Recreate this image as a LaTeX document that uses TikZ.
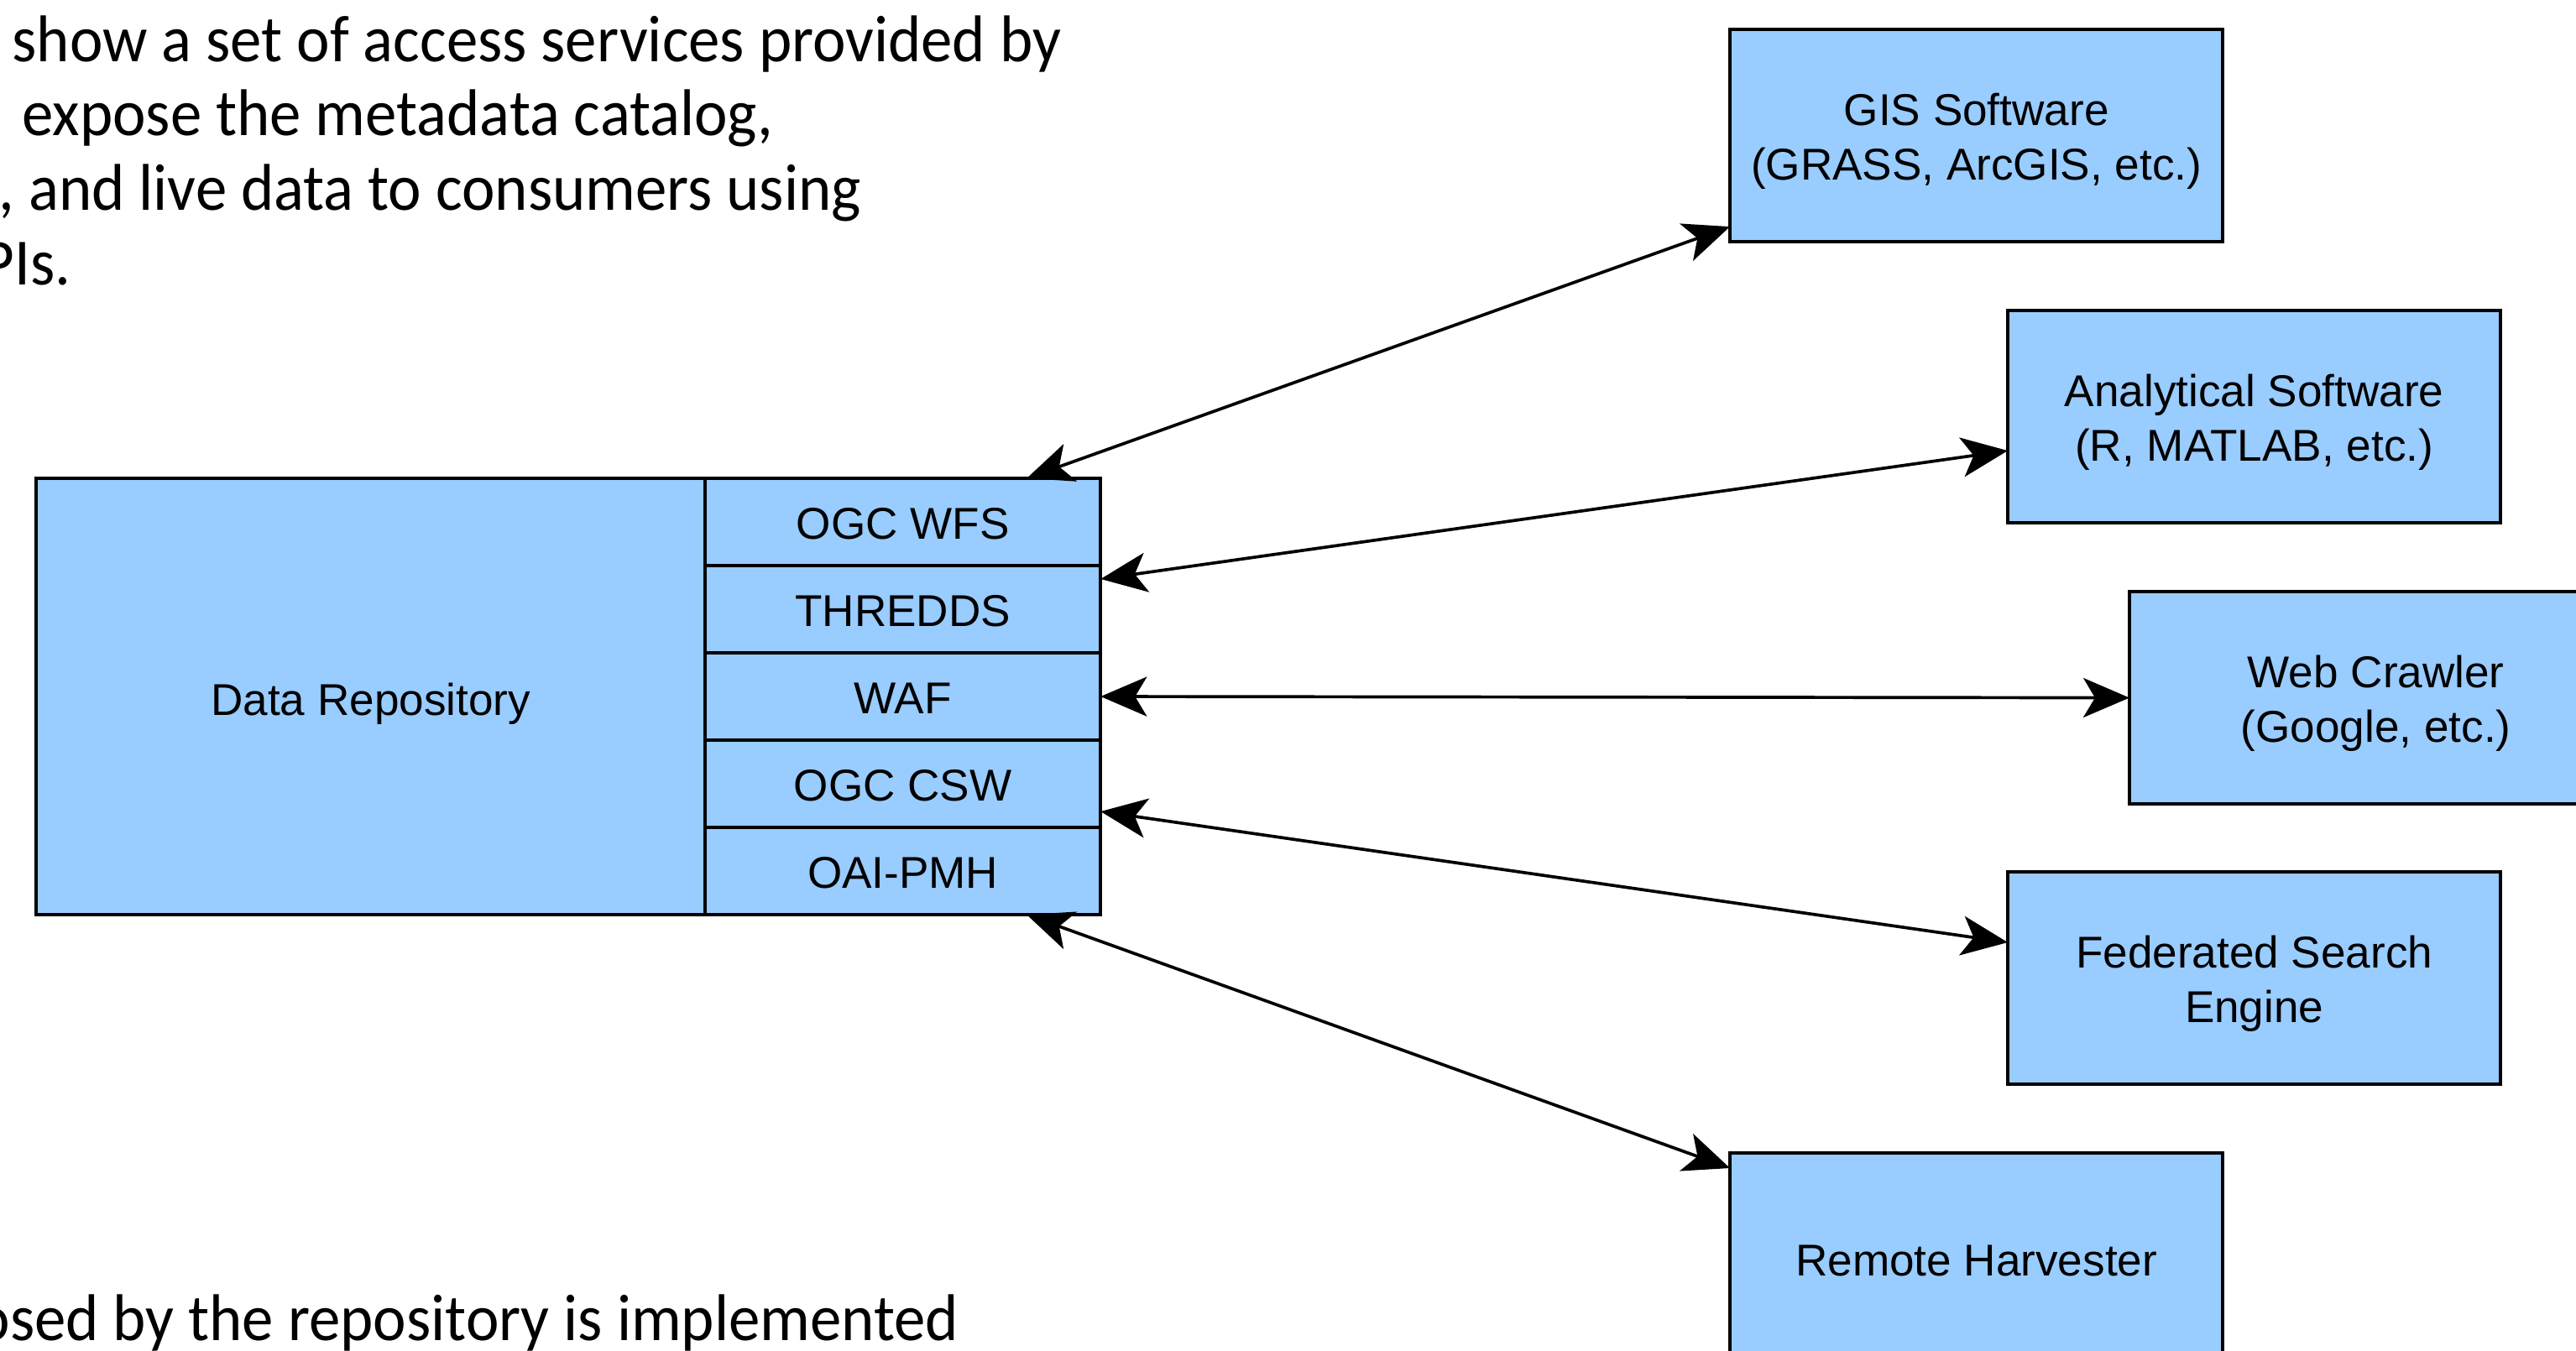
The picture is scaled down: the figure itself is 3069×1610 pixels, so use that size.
\documentclass[tikz,border=0pt]{standalone}
\usepackage{fontspec}
\setmainfont{Liberation Sans}
\newfontfamily\bodyfont[FakeStretch=0.95]{Carlito}
\usetikzlibrary{arrows.meta}
\definecolor{boxblue}{HTML}{99CCFF}
\begin{document}
\begin{tikzpicture}[x=0.01cm,y=-0.01cm,
  box/.style={draw=black, line width=1.15pt, fill=boxblue, inner sep=0pt, outer sep=0pt, anchor=north west},
  svc/.style={box, minimum width=4.71cm, minimum height=1.04cm},
  client/.style={box, minimum width=5.87cm, minimum height=2.53cm},
  lbl/.style={inner sep=0pt, align=center, font=\fontsize{15.1pt}{18.5pt}\selectfont},
  conn/.style={line width=1.05pt, {Stealth[length=0.55cm,width=0.47cm,inset=0.14cm]}-{Stealth[length=0.55cm,width=0.47cm,inset=0.14cm]}},
  prose/.style={anchor=base west, inner sep=0pt, font=\bodyfont\fontsize{22.4pt}{25.6pt}\selectfont}]
\useasboundingbox (0,0) rectangle (3069,1610);
\clip (0,0) rectangle (3069,1610);
\fill[white] (0,0) rectangle (3069,1610);

% prose
\node[prose] (t1) at (14,74) {show a set of access services provided by};
\node[prose] (t2) at (26,162) {expose the metadata catalog,};
\node[prose] (t3) at (-2,251) {, and live data to consumers using};
\node[prose] (t4) at (-22,340) {PIs.};
\node[prose] (t5) at (-28,1597) {osed by the repository is implemented};

% repository
\node[box, minimum width=7.97cm, minimum height=5.20cm] (repo) at (43,570) {};
\node[svc] (wfs) at (840,570) {};
\node[svc] (thredds) at (840,674) {};
\node[svc] (waf) at (840,778) {};
\node[svc] (csw) at (840,882) {};
\node[svc] (oai) at (840,986) {};
\node[lbl] (repol) at ([yshift=-0.085cm]repo.center) {Data Repository};
\node[lbl] (wfsl) at ([yshift=-0.02cm]wfs.center) {OGC WFS};
\node[lbl] (threddsl) at ([yshift=-0.02cm]thredds.center) {THREDDS};
\node[lbl] (wafl) at ([yshift=-0.02cm]waf.center) {WAF};
\node[lbl] (cswl) at ([yshift=-0.02cm]csw.center) {OGC CSW};
\node[lbl] (oail) at ([yshift=-0.02cm]oai.center) {OAI-PMH};

% clients
\node[client] (gis) at (2061,35) {};
\node[client] (ana) at (2392,370) {};
\node[client] (web) at (2537,705) {};
\node[client] (fed) at (2392,1039) {};
\node[client] (rh) at (2061,1374) {};
\node[lbl] (gisl) at ([yshift=-0.07cm]gis.center) {GIS Software\\(GRASS, ArcGIS, etc.)};
\node[lbl] (anal) at ([yshift=-0.07cm]ana.center) {Analytical Software\\(R, MATLAB, etc.)};
\node[lbl] (webl) at ([yshift=-0.07cm]web.center) {Web Crawler\\(Google, etc.)};
\node[lbl] (fedl) at ([yshift=-0.07cm]fed.center) {Federated Search\\Engine};
\node[lbl] (rhl) at ([yshift=-0.02cm]rh.center) {Remote Harvester};

% connectors
\draw[conn] ([xshift=-0.88cm]wfs.north east) -- ([yshift=0.18cm]gis.south west);
\draw[conn] ([yshift=-0.16cm]thredds.north east) -- ([yshift=0.86cm]ana.south west);
\draw[conn] (waf.east) -- (web.west);
\draw[conn] ([yshift=0.19cm]csw.south east) -- ([yshift=-0.84cm]fed.north west);
\draw[conn] ([xshift=-0.88cm]oai.south east) -- ([yshift=-0.18cm]rh.north west);
\end{tikzpicture}
\end{document}
